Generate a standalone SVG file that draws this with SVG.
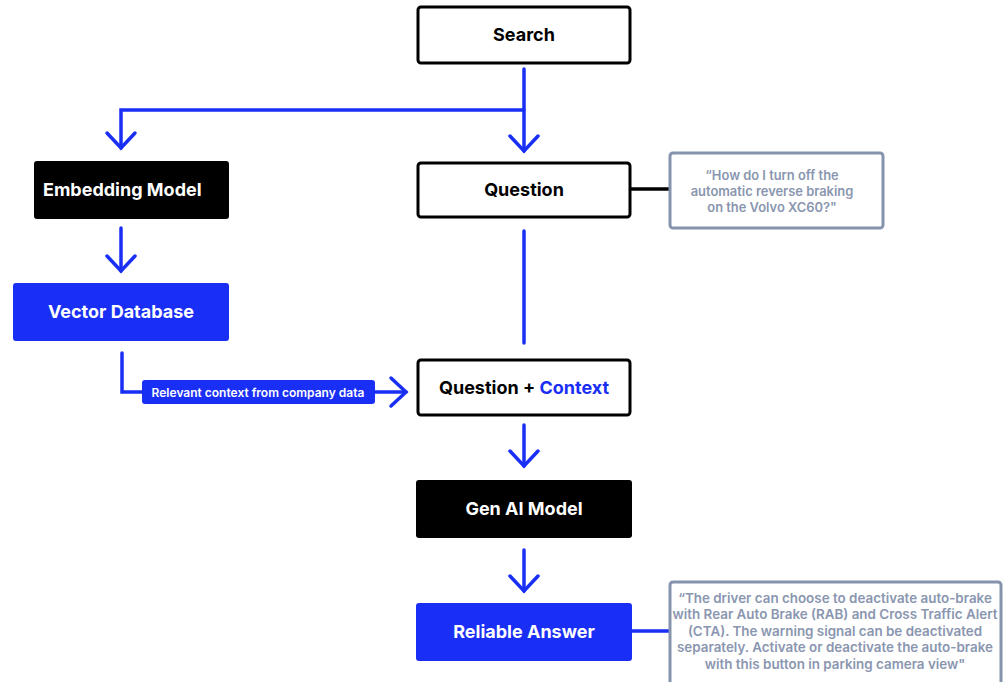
<svg xmlns="http://www.w3.org/2000/svg" width="1006" height="682" viewBox="0 0 1006 682">
<defs>
<style>
.lbl{font-family:Inter,"Liberation Sans",sans-serif;font-weight:700;font-size:18px;text-anchor:middle}
.note{font-family:Inter,"Liberation Sans",sans-serif;font-weight:600;font-size:12.9px;fill:#8a96b0;text-anchor:middle}
.outline{fill:#fff;stroke:#000;stroke-width:3}
.note-box{fill:#fff;stroke:#8593ad;stroke-width:3}
.conn{fill:none;stroke:#1a2ff5;stroke-width:3.5;stroke-linecap:round;stroke-linejoin:miter}
.blue{fill:#1a2ff5}
</style>
<marker id="chev" markerUnits="userSpaceOnUse" viewBox="-18 -17 21 34" refX="0" refY="0" markerWidth="21" markerHeight="34" orient="auto" overflow="visible">
<path d="M-15 -14 L0 0 L-15 14" fill="none" stroke="#1a2ff5" stroke-width="3.5" stroke-linecap="round"/>
</marker>
</defs>
<rect width="1006" height="682" fill="#fff"/>
<g id="connectors">
<path class="conn" d="M524 69 V151" marker-end="url(#chev)"/>
<path class="conn" d="M524 110 H121 V148" marker-end="url(#chev)"/>
<path class="conn" d="M121 228 V271" marker-end="url(#chev)"/>
<path class="conn" d="M122 353 V392 H142"/>
<path class="conn" d="M375 392 H406" marker-end="url(#chev)"/>
<path class="conn" d="M524 231 V343"/>
<path class="conn" d="M524 425 V466" marker-end="url(#chev)"/>
<path class="conn" d="M524 550 V591" marker-end="url(#chev)"/>
<path class="conn" d="M632 631 H669"/>
<path d="M631 189 H669" fill="none" stroke="#000" stroke-width="3.5"/>
</g>
<g id="search">
<rect class="outline" x="418" y="7" width="212" height="56" rx="3"/>
<text class="lbl" x="524" y="41" fill="#000">Search</text>
</g>
<g id="question">
<rect class="outline" x="418" y="163" width="212" height="54" rx="3"/>
<text class="lbl" x="524" y="196" fill="#000">Question</text>
</g>
<g id="question-note">
<rect class="note-box" x="670" y="153" width="213" height="75" rx="3"/>
<text class="note" x="772" y="180">“How do I turn off the</text>
<text class="note" x="772" y="196">automatic reverse braking</text>
<text class="note" x="772" y="212">on the Volvo XC60?"</text>
</g>
<g id="embedding-model">
<rect x="34" y="161" width="195" height="58" rx="3" fill="#000"/>
<text class="lbl" x="43" y="196" fill="#fff" style="text-anchor:start">Embedding Model</text>
</g>
<g id="vector-database">
<rect class="blue" x="13" y="283" width="216" height="58" rx="3"/>
<text class="lbl" x="121" y="318" fill="#fff">Vector Database</text>
</g>
<g id="context-label">
<rect class="blue" x="142" y="380" width="233" height="24" rx="3"/>
<text x="258" y="397" fill="#fff" style="font-family:Inter,'Liberation Sans',sans-serif;font-weight:600;font-size:12px;text-anchor:middle">Relevant context from company data</text>
</g>
<g id="question-context">
<rect class="outline" x="418" y="360" width="212" height="55" rx="3"/>
<text class="lbl" x="524" y="394" fill="#000">Question + <tspan fill="#1a2ff5">Context</tspan></text>
</g>
<g id="gen-ai-model">
<rect x="416" y="480" width="216" height="58" rx="3" fill="#000"/>
<text class="lbl" x="524" y="515" fill="#fff">Gen AI Model</text>
</g>
<g id="reliable-answer">
<rect class="blue" x="416" y="603" width="216" height="58" rx="3"/>
<text class="lbl" x="524" y="638" fill="#fff">Reliable Answer</text>
</g>
<g id="answer-note">
<rect class="note-box" x="670" y="582" width="331" height="110" rx="3"/>
<text class="note" x="835" y="603" style="font-size:13.4px">“The driver can choose to deactivate auto-brake</text>
<text class="note" x="835" y="619" style="font-size:13.4px">with Rear Auto Brake (RAB) and Cross Traffic Alert</text>
<text class="note" x="835" y="636" style="font-size:13.4px">(CTA). The warning signal can be deactivated</text>
<text class="note" x="835" y="652" style="font-size:13.4px">separately. Activate or deactivate the auto-brake</text>
<text class="note" x="835" y="669" style="font-size:13.4px">with this button in parking camera view"</text>
</g>
</svg>
